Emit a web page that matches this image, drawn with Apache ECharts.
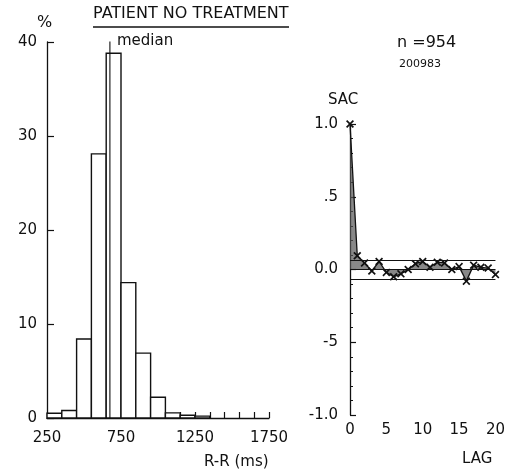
<!DOCTYPE html>
<html>
<head>
<meta charset="utf-8">
<script src="https://cdn.jsdelivr.net/npm/echarts@6/dist/echarts.min.js"></script>
<style>
  html, body { margin: 0; padding: 0; background: #fff; }
  #chart { width: 508px; height: 474px; }
</style>
</head>
<body>
<div id="chart"></div>
<script>
// R-R interval histogram, bins of 100 ms
var binStart = [250, 350, 450, 550, 650, 750, 850, 950, 1050, 1150, 1250];
var binPct = [0.5, 0.8, 8.4, 28.1, 38.8, 14.4, 6.9, 2.2, 0.55, 0.3, 0.2];
var binWidth = 100;
var medianRR = 675;

// serial autocorrelation by lag
var lags = [0, 1, 2, 3, 4, 5, 6, 7, 8, 9, 10, 11, 12, 13, 14, 15, 16, 17, 18, 19, 20];
var sac = [1.0, 0.095, 0.045, -0.01, 0.055, -0.02, -0.05, -0.03, 0.0, 0.04, 0.055,
           0.015, 0.05, 0.045, 0.0, 0.02, -0.08, 0.03, 0.015, 0.01, -0.035];
var confLimit = 0.065;
var sacTickLabels = { '-1': '-1.0', '-0.5': '-5', '0': '0.0', '0.5': '.5', '1': '1.0' };

var FONT = 'DejaVu Sans';
var INK = '#111';

var chartDom = document.getElementById('chart');
var myChart = echarts.init(chartDom, null, { renderer: 'canvas' });

var histData = binStart.map(function (s, i) { return [s, binPct[i]]; });
var sacData = lags.map(function (l, i) { return [l, sac[i]]; });

var crossPath = 'path://M0,1.5L1.5,0L5,3.5L8.5,0L10,1.5L6.5,5L10,8.5L8.5,10L5,6.5L1.5,10L0,8.5L3.5,5Z';

var option = {
  animation: false,
  backgroundColor: '#fff',
  grid: [
    { left: 47, top: 42, width: 222, height: 376 },
    { left: 350, top: 124, width: 147, height: 291 }
  ],
  xAxis: [
    {
      gridIndex: 0, type: 'value', min: 250, max: 1750, interval: 500,
      axisLine: { show: true, lineStyle: { color: INK, width: 1.3 } },
      axisTick: { show: true, inside: true, length: 6, lineStyle: { color: INK, width: 1.2 } },
      minorTick: { show: true, splitNumber: 5, length: 6, lineStyle: { color: INK, width: 1.2 } },
      splitLine: { show: false },
      axisLabel: {
        color: INK, fontFamily: FONT, fontSize: 15, margin: 13,
        formatter: function (v) { return String(v); }
      }
    },
    {
      gridIndex: 1, type: 'value', min: 0, max: 20, interval: 5,
      axisLine: { show: false, onZero: false },
      axisTick: { show: false },
      splitLine: { show: false },
      axisLabel: { color: INK, fontFamily: FONT, fontSize: 15, margin: 8 }
    }
  ],
  yAxis: [
    {
      gridIndex: 0, type: 'value', min: 0, max: 40, interval: 10,
      axisLine: { show: true, lineStyle: { color: INK, width: 1.3 } },
      axisTick: { show: true, inside: true, length: 7, lineStyle: { color: INK, width: 1.2 } },
      splitLine: { show: false },
      axisLabel: { color: INK, fontFamily: FONT, fontSize: 15, margin: 10 }
    },
    {
      gridIndex: 1, type: 'value', min: -1, max: 1, interval: 0.5,
      axisLine: { show: true, lineStyle: { color: INK, width: 1.3 } },
      axisTick: { show: true, inside: true, length: 6, lineStyle: { color: INK, width: 1.2 } },
      minorTick: { show: true, splitNumber: 5, length: 3, lineStyle: { color: INK, width: 1 } },
      splitLine: { show: false },
      axisLabel: {
        color: INK, fontFamily: FONT, fontSize: 15, margin: 12,
        formatter: function (v) { return sacTickLabels[String(v)] || ''; }
      }
    }
  ],
  series: [
    {
      name: 'R-R',
      type: 'custom',
      xAxisIndex: 0, yAxisIndex: 0,
      data: histData,
      renderItem: function (params, api) {
        var s = api.value(0);
        var v = api.value(1);
        var p0 = api.coord([s, v]);
        var p1 = api.coord([s + binWidth, 0]);
        return {
          type: 'rect',
          shape: { x: p0[0], y: p0[1], width: p1[0] - p0[0], height: p1[1] - p0[1] },
          style: { fill: '#fff', stroke: INK, lineWidth: 1.4 }
        };
      },
      z: 2
    },
    {
      name: 'median',
      type: 'line',
      xAxisIndex: 0, yAxisIndex: 0,
      data: [[medianRR, 0], [medianRR, 40.3]],
      symbol: 'none',
      lineStyle: { color: INK, width: 1.1 },
      z: 3
    },
    {
      name: 'SAC',
      type: 'line',
      xAxisIndex: 1, yAxisIndex: 1,
      data: sacData,
      symbol: crossPath,
      symbolSize: 8,
      itemStyle: { color: INK },
      lineStyle: { color: INK, width: 1.3 },
      areaStyle: { color: '#555', origin: 0 },
      markLine: {
        silent: true,
        symbol: 'none',
        label: { show: false },
        lineStyle: { color: INK, width: 1, type: 'solid' },
        data: [
          [{ coord: [0, confLimit] }, { coord: [20, confLimit] }],
          [{ coord: [0, 0] }, { coord: [20, 0] }],
          [{ coord: [0, -confLimit] }, { coord: [20, -confLimit] }]
        ]
      },
      z: 3
    }
  ],
  graphic: [
    { type: 'text', left: 93, top: 6, style: { text: 'PATIENT NO TREATMENT', fill: INK, font: '16px "DejaVu Sans"' } },
    { type: 'line', shape: { x1: 93, y1: 27, x2: 289, y2: 27 }, style: { stroke: INK, lineWidth: 1.3 } },
    { type: 'text', left: 37, top: 15, style: { text: '%', fill: INK, font: '16px "DejaVu Sans"' } },
    { type: 'text', left: 117, top: 34, style: { text: 'median', fill: INK, font: '15px "DejaVu Sans"' } },
    { type: 'text', left: 204, top: 455, style: { text: 'R-R (ms)', fill: INK, font: '15px "DejaVu Sans"' } },
    { type: 'text', left: 397, top: 35, style: { text: 'n =954', fill: INK, font: '16px "DejaVu Sans"' } },
    { type: 'text', left: 399, top: 59, style: { text: '200983', fill: INK, font: '11px "DejaVu Sans"' } },
    { type: 'text', left: 328, top: 93, style: { text: 'SAC', fill: INK, font: '15px "DejaVu Sans"' } },
    { type: 'text', left: 462, top: 452, style: { text: 'LAG', fill: INK, font: '15px "DejaVu Sans"' } }
  ]
};

option && myChart.setOption(option);
</script>
</body>
</html>
